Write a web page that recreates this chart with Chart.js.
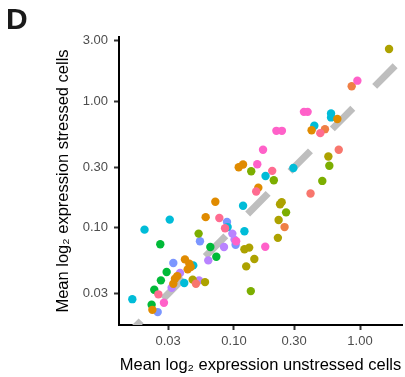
<!DOCTYPE html>
<html><head><meta charset="utf-8">
<script src="https://cdn.jsdelivr.net/npm/chart.js@4.4.1/dist/chart.umd.min.js"></script>
<style>html,body{margin:0;padding:0;background:#fff;}canvas{display:block;}</style>
</head><body>
<canvas id="c" width="405" height="377"></canvas>
<script>
// ---- text ----
const panelLabel = 'D';
const xTitle = 'Mean log\u2082 expression unstressed cells';
const yTitle = 'Mean log\u2082 expression stressed cells';

// ---- ticks ----
const xTickValues = [0.03, 0.1, 0.3, 1];
const xTickLabels = ['0.03', '0.10', '0.30', '1.00'];
const yTickValues = [0.03, 0.1, 0.3, 1, 3];
const yTickLabels = ['0.03', '0.10', '0.30', '1.00', '3.00'];

// ---- axis ranges ----
const xRange = [0.01223, 2.154];
const yRange = [0.0170, 3.21];

// ---- identity reference line (y = x) ----
const refLine = [1.9, 0.01];

// ---- point groups (x = unstressed, y = stressed) ----
const salmonX = [0.678, 0.405, 0.0499];
const salmonY = [0.412, 0.186, 0.0360];

const pinkRedX = [0.484, 0.201, 0.0765, 0.0849, 0.0251, 0.150];
const pinkRedY = [0.558, 0.281, 0.119, 0.0988, 0.0297, 0.193];

const pinkX = [0.953, 0.359, 0.384, 0.217, 0.240, 0.170, 0.153, 0.177, 0.0278, 0.104];
const pinkY = [1.45, 0.822, 0.822, 0.582, 0.582, 0.412, 0.317, 0.0707, 0.0255, 0.078];

const orangeX = [0.661, 0.413, 0.109, 0.118, 0.156, 0.0711, 0.0596, 0.0408, 0.0442, 0.0453, 0.0429, 0.0355, 0.0340, 0.0330, 0.0225];
const orangeY = [0.721, 0.589, 0.300, 0.315, 0.207, 0.160, 0.121, 0.0561, 0.0519, 0.0489, 0.0468, 0.0414, 0.0395, 0.0360, 0.0224];

const orange2X = [0.859, 0.527, 0.252];
const orange2Y = [1.31, 0.600, 0.101];

const oliveX = [1.70, 0.561, 0.232, 0.239, 0.226, 0.223, 0.121, 0.132, 0.145, 0.125, 0.0470, 0.0589];
const oliveY = [2.58, 0.365, 0.153, 0.159, 0.115, 0.083, 0.0674, 0.0695, 0.0565, 0.0494, 0.0388, 0.0371];

const limeX = [0.571, 0.502, 0.259, 0.136, 0.0524, 0.137, 0.207];
const limeY = [0.308, 0.234, 0.132, 0.0315, 0.0897, 0.279, 0.237];

const greenX = [0.0649, 0.0724, 0.0292, 0.0263, 0.0233, 0.0222, 0.0260];
const greenY = [0.0703, 0.0589, 0.0446, 0.0383, 0.0323, 0.0246, 0.0738];

const cyanX = [0.589, 0.589, 0.434, 0.296, 0.178, 0.118, 0.121, 0.089, 0.0475, 0.0403, 0.0156, 0.0195, 0.0309];
const cyanY = [0.798, 0.743, 0.638, 0.296, 0.256, 0.149, 0.0935, 0.101, 0.0503, 0.0365, 0.0272, 0.0964, 0.1157];

const blueX = [0.088, 0.103, 0.0537, 0.0330, 0.0248];
const blueY = [0.111, 0.0733, 0.078, 0.0525, 0.0215];

const purpleX = [0.097, 0.101, 0.0833, 0.0625, 0.0373, 0.0528, 0.0320];
const purpleY = [0.0897, 0.0804, 0.0703, 0.0551, 0.0438, 0.0383, 0.0335];

// ---- build ----
const FONT = "'Liberation Sans', Arial, Helvetica, sans-serif";
const zip = (xs, ys) => xs.map((x, i) => ({x: x, y: ys[i]}));
const groups = [
  [salmonX, salmonY, '#F8766D'],
  [pinkRedX, pinkRedY, '#FF6C91'],
  [pinkX, pinkY, '#FF61C9'],
  [orangeX, orangeY, '#E08B00'],
  [orange2X, orange2Y, '#EF7F45'],
  [oliveX, oliveY, '#ADA200'],
  [limeX, limeY, '#7CAE00'],
  [greenX, greenY, '#00BA38'],
  [cyanX, cyanY, '#00BCD8'],
  [blueX, blueY, '#7B96FF'],
  [purpleX, purpleY, '#B983FF']
];
const datasets = groups.map(g => ({
  type: 'scatter',
  data: zip(g[0], g[1]),
  backgroundColor: g[2],
  borderWidth: 0,
  pointRadius: 4.2,
  pointHoverRadius: 4.2,
  order: 0
}));
datasets.push({
  type: 'scatter',
  data: zip(refLine, refLine),
  showLine: true,
  pointRadius: 0,
  borderColor: '#BEBEBE',
  borderWidth: 7,
  borderDash: [29, 31],
  borderCapStyle: 'butt',
  clip: 0,
  order: 5
});

new Chart(document.getElementById('c'), {
  type: 'scatter',
  data: {datasets: datasets},
  options: {
    responsive: false,
    animation: false,
    devicePixelRatio: 1,
    layout: {padding: {left: 6, right: 3, top: 0, bottom: 0}, autoPadding: false},
    plugins: {
      legend: {display: false},
      tooltip: {enabled: false},
      title: {
        display: true, text: panelLabel, align: 'start', color: '#1a1a1a',
        font: {family: FONT, size: 30, weight: 'bold', lineHeight: 1},
        padding: {top: 6, bottom: 1}
      }
    },
    scales: {
      x: {
        type: 'logarithmic', position: 'bottom', min: xRange[0], max: xRange[1],
        afterFit: s => { s.height = 52; },
        afterBuildTicks: s => { s.ticks = xTickValues.map(v => ({value: v})); },
        grid: {drawOnChartArea: false, drawTicks: true, tickLength: 5, tickColor: '#333', tickWidth: 2},
        border: {display: true, color: '#000', width: 2},
        ticks: {
          autoSkip: false, maxRotation: 0, padding: 4, color: '#4D4D4D',
          font: {family: FONT, size: 13},
          callback: (v, i) => xTickLabels[i]
        },
        title: {display: true, text: xTitle, color: '#000', font: {family: FONT, size: 16.5}, padding: {top: 0, bottom: 1.6}}
      },
      y: {
        type: 'logarithmic', position: 'left', min: yRange[0], max: yRange[1],
        afterFit: s => { s.width = 113; },
        afterBuildTicks: s => { s.ticks = yTickValues.map(v => ({value: v})); },
        grid: {drawOnChartArea: false, drawTicks: true, tickLength: 5, tickColor: '#333', tickWidth: 2},
        border: {display: true, color: '#000', width: 2},
        ticks: {
          autoSkip: false, padding: 6, color: '#4D4D4D',
          font: {family: FONT, size: 13},
          callback: (v, i) => yTickLabels[i]
        },
        title: {display: true, text: yTitle, color: '#000', font: {family: FONT, size: 16.5}, padding: {top: 47.6, bottom: 0}}
      }
    }
  }
});
</script>
</body></html>
